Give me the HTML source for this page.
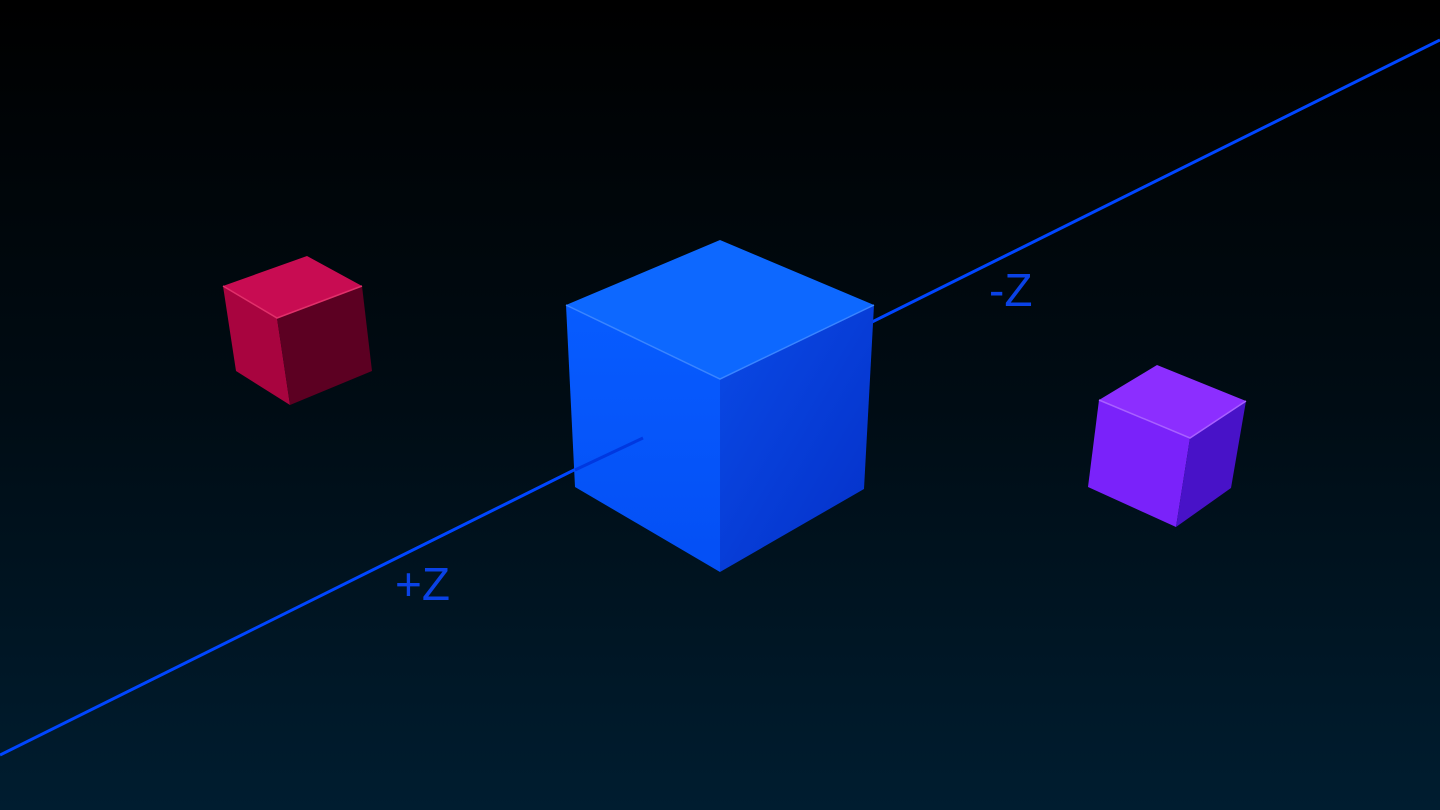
<!DOCTYPE html>
<html><head><meta charset="utf-8"><style>
html,body{margin:0;padding:0;width:1440px;height:810px;overflow:hidden;background:#000}
svg{display:block}
text{font-family:"Liberation Sans","DejaVu Sans",sans-serif}
</style></head><body>
<svg width="1440" height="810" viewBox="0 0 1440 810">
<defs>
<linearGradient id="bg" x1="0" y1="0" x2="0" y2="1">
<stop offset="0" stop-color="#000000"/><stop offset="0.5" stop-color="#000c14"/><stop offset="1" stop-color="#001d30"/>
</linearGradient>
<linearGradient id="bigR" x1="0" y1="0" x2="1" y2="1">
<stop offset="0" stop-color="#0a4ae6"/><stop offset="1" stop-color="#0430c8"/>
</linearGradient>
<linearGradient id="bigL" x1="0" y1="0" x2="0" y2="1">
<stop offset="0" stop-color="#075cff"/><stop offset="1" stop-color="#044ff5"/>
</linearGradient>
</defs>
<rect width="1440" height="810" fill="url(#bg)"/>
<line x1="0" y1="755" x2="1440" y2="40" stroke="#0046ff" stroke-width="3"/>

<g>
<polygon points="223,286 307,256 362,286 277,318" fill="#c80c52"/>
<polygon points="223,286 277,318 290,405 236,371" fill="#a8043f"/>
<polygon points="277,318 362,286 372,371 290,405" fill="#5c0022"/>
<polyline points="223,286 277,318 362,286" fill="none" stroke="#e0306a" stroke-width="1.5"/>
</g>

<g>
<polygon points="566,305 720,240 874,305 720,379" fill="#0d68ff"/>
<polygon points="566,305 720,379 720,572 575,487" fill="url(#bigL)"/>
<polygon points="720,379 874,305 864,489 720,572" fill="url(#bigR)"/>
<polyline points="566,305 720,379 874,305" fill="none" stroke="#3a85ff" stroke-width="1.5"/>
<line x1="575" y1="470" x2="643" y2="438" stroke="#0038e0" stroke-width="3"/>
</g>

<g>
<polygon points="1099,400 1157,365 1246,401 1190,438" fill="#8c2eff"/>
<polygon points="1099,400 1190,438 1176,527 1088,487" fill="#7a22fa"/>
<polygon points="1190,438 1246,401 1231,488 1176,527" fill="#4812c8"/>
<polyline points="1099,400 1190,438 1246,401" fill="none" stroke="#a860ff" stroke-width="1.5"/>
</g>

<text x="989" y="306" font-size="46" fill="#0a42e6">-Z</text>
<text x="395" y="600" font-size="46" fill="#0a42e6">+Z</text>
</svg>
</body></html>
